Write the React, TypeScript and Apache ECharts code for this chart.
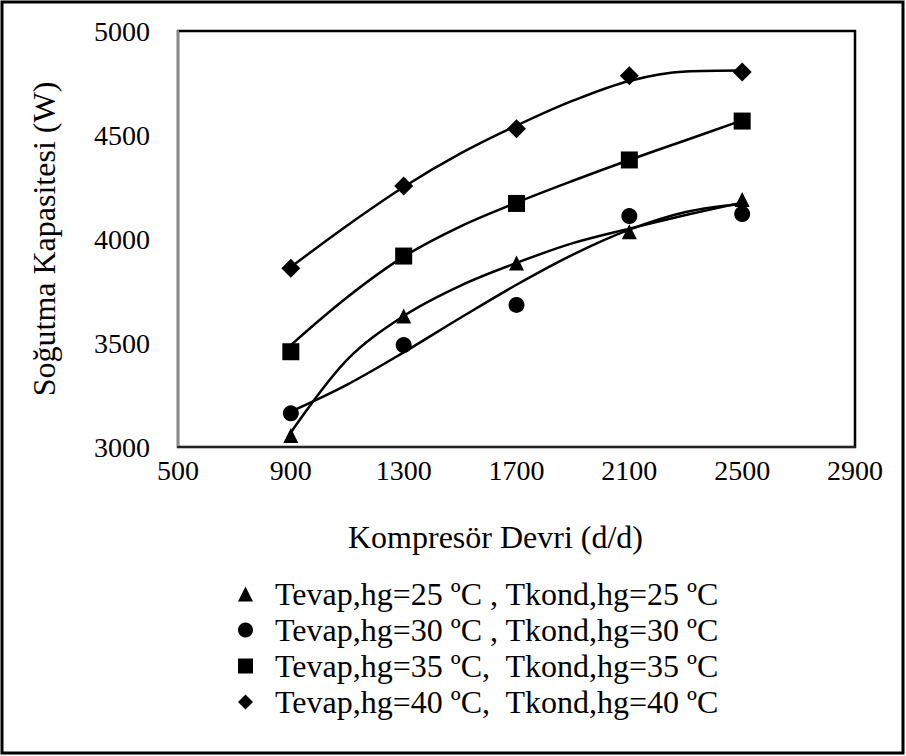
import React, { useEffect, useRef } from "react";
import * as echarts from "echarts";

// Measured points
const rpm = [900, 1300, 1700, 2100, 2500];
const cap25 = [3055, 3630, 3885, 4035, 4190];
const cap30 = [3162, 3490, 3683, 4110, 4120];
const cap35 = [3458, 3918, 4171, 4380, 4567];
const cap40 = [3859, 4255, 4530, 4785, 4803];

// Trend curves
const curveX = [900, 1100, 1300, 1500, 1700, 1900, 2100, 2300, 2500];
const trend25 = [3070, 3420, 3630, 3775, 3885, 3980, 4050, 4115, 4175];
const trend30 = [3170, 3300, 3455, 3620, 3780, 3925, 4045, 4130, 4170];
const trend35 = [3490, 3720, 3915, 4060, 4175, 4280, 4380, 4475, 4570];
const trend40 = [3865, 4065, 4250, 4410, 4545, 4665, 4760, 4805, 4810];

const seriesNames = [
  "Tevap,hg=25 ºC , Tkond,hg=25 ºC",
  "Tevap,hg=30 ºC , Tkond,hg=30 ºC",
  "Tevap,hg=35 ºC,  Tkond,hg=35 ºC",
  "Tevap,hg=40 ºC,  Tkond,hg=40 ºC",
];
const symbols = ["triangle", "circle", "rect", "diamond"];
const symbolSizes = [15, 16, 17, 19];

const xTicks = { min: 500, max: 2900, interval: 400 };
const yTicks = { min: 3000, max: 5000, interval: 500 };

const FONT = "'Liberation Serif', 'Times New Roman', serif";

export default function App() {
  const ref = useRef<HTMLDivElement>(null);
  useEffect(() => {
    if (!ref.current) return;
    const chart = echarts.init(ref.current, undefined, { renderer: "svg" });
    const points = [cap25, cap30, cap35, cap40];
    const trends = [trend25, trend30, trend35, trend40];
    const series: any[] = [];
    trends.forEach((t, i) => {
      series.push({
        type: "line",
        name: "trend" + i,
        data: curveX.map((x, j) => [x, t[j]]),
        smooth: 0.35,
        showSymbol: false,
        silent: true,
        lineStyle: { color: "#000", width: 2.5 },
        z: 2,
      });
    });
    points.forEach((p, i) => {
      series.push({
        type: "scatter",
        name: seriesNames[i],
        data: rpm.map((x, j) => [x, p[j]]),
        symbol: symbols[i],
        symbolSize: symbolSizes[i],
        itemStyle: { color: "#000", opacity: 1 },
        z: 3,
      });
    });
    chart.setOption({
      animation: false,
      backgroundColor: "#fff",
      textStyle: { fontFamily: FONT },
      grid: { left: 178, top: 31, right: 51, bottom: 309, show: true, borderColor: "#000", borderWidth: 2.5 },
      xAxis: {
        type: "value",
        min: xTicks.min,
        max: xTicks.max,
        interval: xTicks.interval,
        name: "Kompresör Devri (d/d)",
        nameLocation: "middle",
        nameGap: 74,
        nameTextStyle: { fontSize: 32, color: "#000", fontFamily: FONT, padding: [0, 42, 0, 0] },
        axisLine: { show: true, lineStyle: { color: "#222", width: 2 } },
        axisTick: { show: false },
        splitLine: { show: false },
        axisLabel: { fontSize: 28, color: "#000", fontFamily: FONT, margin: 9, formatter: (v: number) => String(v) },
      },
      yAxis: {
        type: "value",
        min: yTicks.min,
        max: yTicks.max,
        interval: yTicks.interval,
        name: "Soğutma Kapasitesi (W)",
        nameLocation: "middle",
        nameGap: 118,
        nameTextStyle: { fontSize: 32, color: "#000", fontFamily: FONT },
        axisLine: { show: true, lineStyle: { color: "#888", width: 2 } },
        axisTick: { show: false },
        splitLine: { show: false },
        axisLabel: { fontSize: 28, color: "#000", fontFamily: FONT, margin: 28, formatter: (v: number) => String(v) },
      },
      legend: {
        data: seriesNames.map((n, i) => ({ name: n, icon: symbols[i] })),
        orient: "vertical",
        left: 233,
        top: 573,
        itemWidth: 15,
        itemHeight: 15,
        itemGap: 4,
        selectedMode: false,
        textStyle: { fontSize: 32, color: "#000", fontFamily: FONT, padding: [0, 0, 0, 17] },
      },
      graphic: [
        {
          type: "rect",
          shape: { x: 2, y: 2, width: 901, height: 751 },
          style: { fill: "none", stroke: "#000", lineWidth: 3 },
          silent: true,
        },
      ],
      series,
    });
    return () => chart.dispose();
  }, []);
  return (
    <div
      ref={ref}
      style={{ position: "fixed", left: 0, top: 0, width: 906, height: 756 }}
    />
  );
}
